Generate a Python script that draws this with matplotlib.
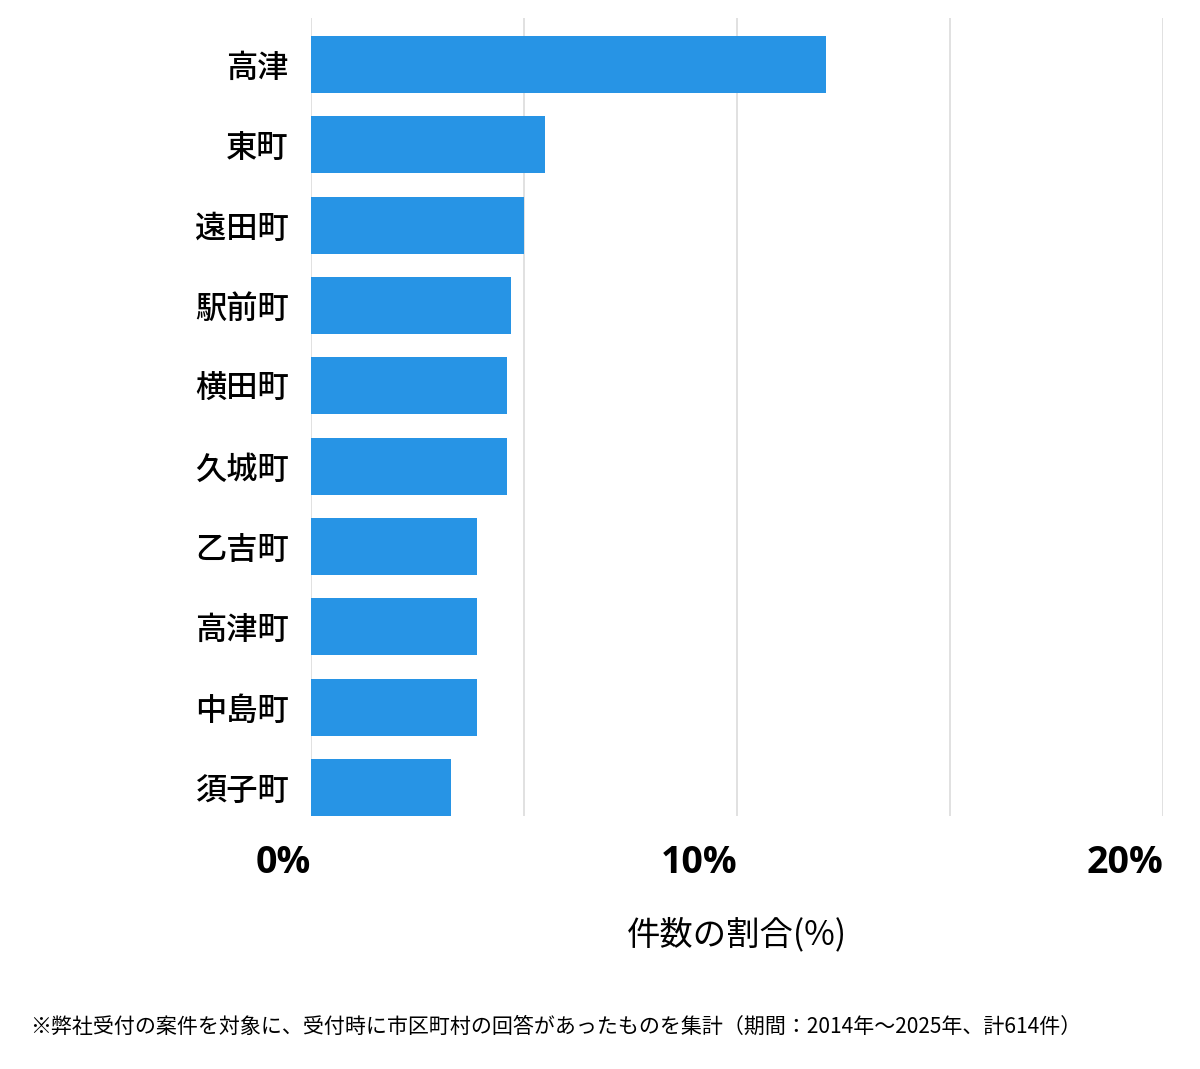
import matplotlib
matplotlib.use("Agg")
import matplotlib.pyplot as plt

plt.rcParams['font.family'] = ['Noto Sans CJK JP', 'DejaVu Sans']

# data (share of cases, %)
areas = ['高津', '東町', '遠田町', '駅前町', '横田町', '久城町', '乙吉町', '高津町', '中島町', '須子町']
shares = [12.1, 5.49, 5.0, 4.69, 4.6, 4.6, 3.9, 3.9, 3.9, 3.29]
tick_values = [0, 5, 10, 15, 20]
tick_labels = ['0%', '', '10%', '', '20%']

BAR_COLOR = '#2794e5'
GRID_COLOR = '#dcdcdc'

fig = plt.figure(figsize=(12, 10.69), dpi=100)
ax = fig.add_axes([311 / 1200, 1 - 816 / 1069, (1163 - 311) / 1200, (816 - 18) / 1069])

y = list(range(len(areas)))
ax.barh(y, shares, height=0.71, color=BAR_COLOR, zorder=2)

ax.set_xlim(0, 20)
ax.set_ylim(9.355, -0.579)

ax.set_xticks(tick_values)
ax.set_xticklabels(tick_labels, fontsize=27, fontweight='bold', ha='right',
                   family=['Open Sans', 'DejaVu Sans'])
ax.set_yticks(y)
ax.set_yticklabels(areas, fontsize=22.5, fontweight='medium')
ax.tick_params(axis='x', length=0, pad=20)
ax.tick_params(axis='y', length=0, pad=16)
ax.xaxis.grid(True, color=GRID_COLOR, linewidth=1.2, zorder=0)
for s in ax.spines.values():
    s.set_visible(False)

fig.text(737 / 1200, 1 - 935 / 1069, '件数の割合(%)', fontsize=24, ha='center', va='center')
fig.text(30 / 1200, 1 - 1027 / 1069,
         '※弊社受付の案件を対象に、受付時に市区町村の回答があったものを集計（期間：2014年～2025年、計614件）',
         fontsize=15.1, ha='left', va='center')

fig.savefig('out.png', dpi=100)
